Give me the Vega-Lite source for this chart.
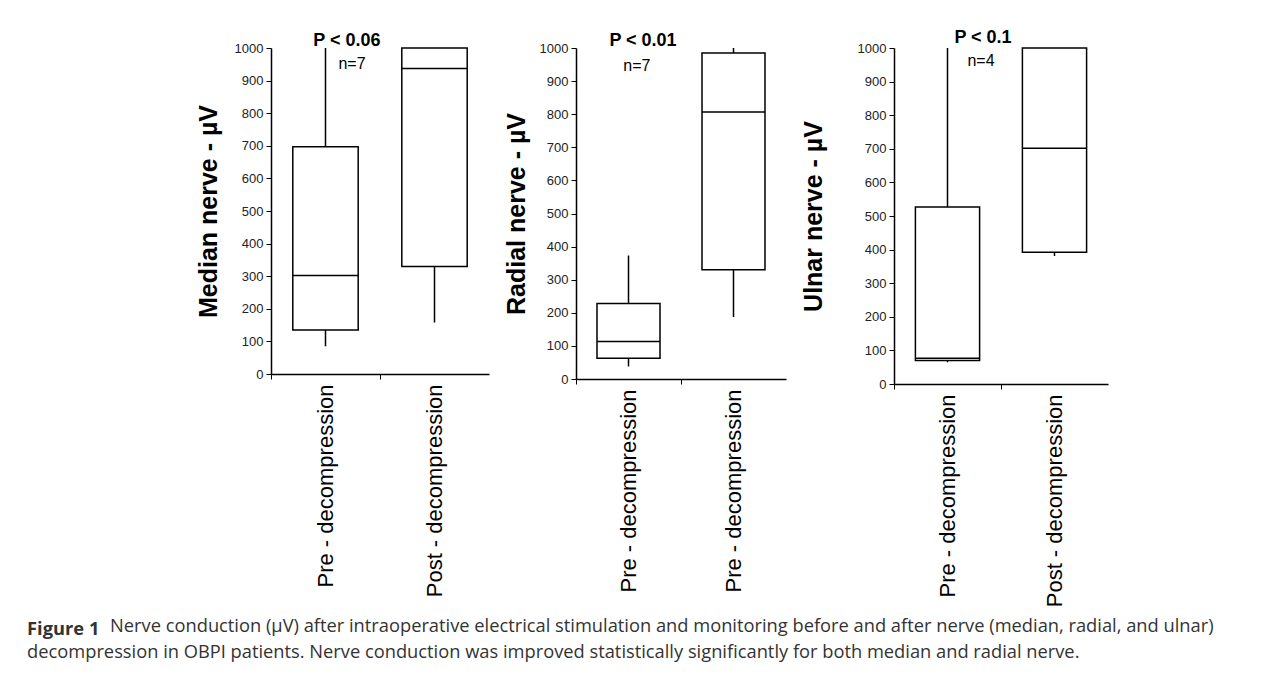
{
  "$schema": "https://vega.github.io/schema/vega-lite/v6.json",
  "background": "white",
  "padding": {"left": 27, "top": 28, "right": 10, "bottom": 5},
  "datasets": {
    "boxes": [
      {"nerve": "median", "g": "pre", "lo": 85, "q1": 135, "med": 302, "q3": 697, "hi": 1000},
      {"nerve": "median", "g": "post", "lo": 158, "q1": 330, "med": 937, "q3": 1000, "hi": 1000},
      {"nerve": "radial", "g": "pre", "lo": 38, "q1": 63, "med": 113, "q3": 228, "hi": 373},
      {"nerve": "radial", "g": "post", "lo": 187, "q1": 330, "med": 807, "q3": 985, "hi": 1000},
      {"nerve": "ulnar", "g": "pre", "lo": 65, "q1": 70, "med": 77, "q3": 527, "hi": 1000},
      {"nerve": "ulnar", "g": "post", "lo": 381, "q1": 392, "med": 702, "q3": 1000, "hi": 1000}
    ],
    "notes": [
      {"nerve": "median", "g": "pre", "kind": "p", "label": "P < 0.06", "y": 1021},
      {"nerve": "median", "g": "pre", "kind": "n", "label": "n=7", "y": 951},
      {"nerve": "radial", "g": "pre", "kind": "p", "label": "P < 0.01", "y": 1021},
      {"nerve": "radial", "g": "pre", "kind": "n", "label": "n=7", "y": 946},
      {"nerve": "ulnar", "g": "pre", "kind": "p", "label": "P < 0.1", "y": 1030},
      {"nerve": "ulnar", "g": "pre", "kind": "n", "label": "n=4", "y": 961}
    ]
  },
  "title": {
    "text": "decompression in OBPI patients. Nerve conduction was improved statistically significantly for both median and radial nerve.",
    "orient": "bottom",
    "anchor": "start",
    "dx": 0,
    "offset": 6,
    "font": "Open Sans",
    "fontSize": 18.3,
    "fontWeight": "normal",
    "color": "#333333"
  },
  "vconcat": [
    {
      "title": {
        "text": "Nerve conduction (µV) after intraoperative electrical stimulation and monitoring before and after nerve (median, radial, and ulnar)",
        "orient": "bottom",
        "anchor": "start",
        "dx": 83,
        "offset": -20,
        "font": "Open Sans",
        "fontSize": 18.3,
        "fontWeight": "normal",
        "color": "#333333"
      },
      "vconcat": [
        {
          "title": {
            "text": "Figure 1",
            "orient": "bottom",
            "anchor": "start",
            "dx": -169,
            "offset": 14,
            "font": "Open Sans",
            "fontSize": 18.3,
            "fontWeight": "bold",
            "color": "#333333"
          },
          "spacing": 15,
          "hconcat": [
            {
              "width": 218,
              "height": 326,
              "layer": [
                {
                  "data": {"name": "boxes"},
                  "transform": [{"filter": "datum.nerve === 'median'"}],
                  "encoding": {
                    "x": {"field": "g", "type": "nominal", "title": null,
                      "scale": {"domain": ["pre", "post"], "paddingInner": 0, "paddingOuter": 0},
                      "axis": {"labelExpr": "datum.value === 'pre' ? 'Pre - decompression' : 'Post - decompression'"}}
                  },
                  "layer": [
                    {"mark": {"type": "rule", "stroke": "black", "strokeWidth": 1.5},
                     "encoding": {"y": {"field": "lo", "type": "quantitative", "title": "Median nerve - µV",
                       "scale": {"domain": [0, 1000], "nice": false},
                       "axis": {"titlePadding": 13}}, "y2": {"field": "hi"}}},
                    {"mark": {"type": "bar", "fill": "white", "stroke": "black", "strokeWidth": 1.5, "width": {"band": 0.6}},
                     "encoding": {"y": {"field": "q1", "type": "quantitative"}, "y2": {"field": "q3"}}},
                    {"mark": {"type": "bar", "fill": "white", "stroke": "black", "strokeWidth": 1.5, "width": {"band": 0.6}},
                     "encoding": {"y": {"field": "med", "type": "quantitative"}, "y2": {"field": "med"}}}
                  ]
                },
                {
                  "data": {"name": "notes"},
                  "transform": [{"filter": "datum.nerve === 'median' && datum.kind === 'p'"}],
                  "mark": {"type": "text", "font": "Liberation Sans", "fontWeight": "bold", "fontSize": 18, "baseline": "middle"},
                  "encoding": {
                    "x": {"field": "g", "type": "nominal", "bandPosition": 0.697},
                    "y": {"field": "y", "type": "quantitative"},
                    "text": {"field": "label"}
                  }
                },
                {
                  "data": {"name": "notes"},
                  "transform": [{"filter": "datum.nerve === 'median' && datum.kind === 'n'"}],
                  "mark": {"type": "text", "font": "Liberation Sans", "fontSize": 16, "baseline": "middle"},
                  "encoding": {
                    "x": {"field": "g", "type": "nominal", "bandPosition": 0.743},
                    "y": {"field": "y", "type": "quantitative"},
                    "text": {"field": "label"}
                  }
                }
              ]
            },
            {
              "width": 210,
              "height": 331,
              "layer": [
                {
                  "data": {"name": "boxes"},
                  "transform": [{"filter": "datum.nerve === 'radial'"}],
                  "encoding": {
                    "x": {"field": "g", "type": "nominal", "title": null,
                      "scale": {"domain": ["pre", "post"], "paddingInner": 0, "paddingOuter": 0},
                      "axis": {"labelExpr": "'Pre - decompression'"}}
                  },
                  "layer": [
                    {"mark": {"type": "rule", "stroke": "black", "strokeWidth": 1.5},
                     "encoding": {"y": {"field": "lo", "type": "quantitative", "title": "Radial nerve - µV",
                       "scale": {"domain": [0, 1000], "nice": false},
                       "axis": {"titlePadding": 10}}, "y2": {"field": "hi"}}},
                    {"mark": {"type": "bar", "fill": "white", "stroke": "black", "strokeWidth": 1.5, "width": {"band": 0.6}},
                     "encoding": {"y": {"field": "q1", "type": "quantitative"}, "y2": {"field": "q3"}}},
                    {"mark": {"type": "bar", "fill": "white", "stroke": "black", "strokeWidth": 1.5, "width": {"band": 0.6}},
                     "encoding": {"y": {"field": "med", "type": "quantitative"}, "y2": {"field": "med"}}}
                  ]
                },
                {
                  "data": {"name": "notes"},
                  "transform": [{"filter": "datum.nerve === 'radial' && datum.kind === 'p'"}],
                  "mark": {"type": "text", "font": "Liberation Sans", "fontWeight": "bold", "fontSize": 18, "baseline": "middle"},
                  "encoding": {
                    "x": {"field": "g", "type": "nominal", "bandPosition": 0.638},
                    "y": {"field": "y", "type": "quantitative"},
                    "text": {"field": "label"}
                  }
                },
                {
                  "data": {"name": "notes"},
                  "transform": [{"filter": "datum.nerve === 'radial' && datum.kind === 'n'"}],
                  "mark": {"type": "text", "font": "Liberation Sans", "fontSize": 16, "baseline": "middle"},
                  "encoding": {
                    "x": {"field": "g", "type": "nominal", "bandPosition": 0.58},
                    "y": {"field": "y", "type": "quantitative"},
                    "text": {"field": "label"}
                  }
                }
              ]
            },
            {
              "width": 214,
              "height": 336,
              "layer": [
                {
                  "data": {"name": "boxes"},
                  "transform": [{"filter": "datum.nerve === 'ulnar'"}],
                  "encoding": {
                    "x": {"field": "g", "type": "nominal", "title": null,
                      "scale": {"domain": ["pre", "post"], "paddingInner": 0, "paddingOuter": 0},
                      "axis": {"labelExpr": "datum.value === 'pre' ? 'Pre - decompression' : 'Post - decompression'"}}
                  },
                  "layer": [
                    {"mark": {"type": "rule", "stroke": "black", "strokeWidth": 1.5},
                     "encoding": {"y": {"field": "lo", "type": "quantitative", "title": "Ulnar nerve - µV",
                       "scale": {"domain": [0, 1000], "nice": false},
                       "axis": {"titlePadding": 31}}, "y2": {"field": "hi"}}},
                    {"mark": {"type": "bar", "fill": "white", "stroke": "black", "strokeWidth": 1.5, "width": {"band": 0.6}},
                     "encoding": {"y": {"field": "q1", "type": "quantitative"}, "y2": {"field": "q3"}}},
                    {"mark": {"type": "bar", "fill": "white", "stroke": "black", "strokeWidth": 1.5, "width": {"band": 0.6}},
                     "encoding": {"y": {"field": "med", "type": "quantitative"}, "y2": {"field": "med"}}}
                  ]
                },
                {
                  "data": {"name": "notes"},
                  "transform": [{"filter": "datum.nerve === 'ulnar' && datum.kind === 'p'"}],
                  "mark": {"type": "text", "font": "Liberation Sans", "fontWeight": "bold", "fontSize": 18, "baseline": "middle"},
                  "encoding": {
                    "x": {"field": "g", "type": "nominal", "bandPosition": 0.832},
                    "y": {"field": "y", "type": "quantitative"},
                    "text": {"field": "label"}
                  }
                },
                {
                  "data": {"name": "notes"},
                  "transform": [{"filter": "datum.nerve === 'ulnar' && datum.kind === 'n'"}],
                  "mark": {"type": "text", "font": "Liberation Sans", "fontSize": 16, "baseline": "middle"},
                  "encoding": {
                    "x": {"field": "g", "type": "nominal", "bandPosition": 0.813},
                    "y": {"field": "y", "type": "quantitative"},
                    "text": {"field": "label"}
                  }
                }
              ]
            }
          ]
        }
      ]
    }
  ],
  "config": {
    "view": {"stroke": null},
    "axisY": {
      "values": [0, 100, 200, 300, 400, 500, 600, 700, 800, 900, 1000],
      "format": "d",
      "grid": false,
      "domainColor": "black",
      "domainWidth": 1.5,
      "tickColor": "black",
      "tickSize": 5,
      "labelPadding": 3,
      "labelFont": "Liberation Sans",
      "labelFontSize": 13,
      "labelColor": "#222222",
      "titleFont": "Liberation Sans",
      "titleFontSize": 25,
      "titleFontWeight": "bold",
      "titleColor": "black"
    },
    "axisX": {
      "grid": false,
      "ticks": true,
      "bandPosition": 0,
      "tickSize": 5,
      "tickColor": "black",
      "domainColor": "black",
      "domainWidth": 1.5,
      "labelAngle": -90,
      "labelPadding": 5,
      "labelFont": "Liberation Sans",
      "labelFontSize": 22,
      "labelColor": "black",
      "labelLimit": 400
    }
  }
}
